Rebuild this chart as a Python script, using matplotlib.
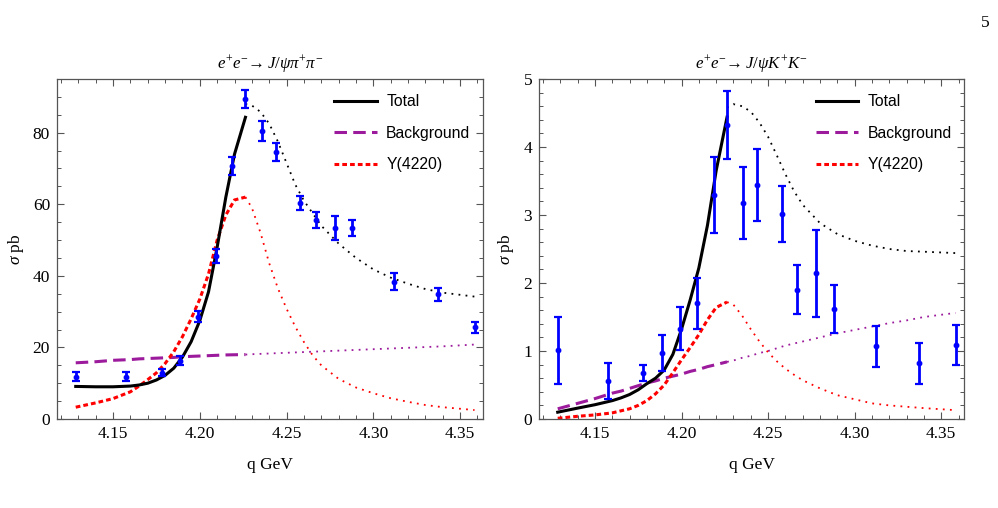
import matplotlib
matplotlib.use("Agg")
import matplotlib.pyplot as plt
from matplotlib.ticker import MultipleLocator
from matplotlib.lines import Line2D

plt.rcParams["font.family"] = "Liberation Serif"
plt.rcParams["mathtext.fontset"] = "custom"
plt.rcParams["mathtext.it"] = "Liberation Serif:italic"
plt.rcParams["mathtext.rm"] = "Liberation Serif"
plt.rcParams["lines.scale_dashes"] = False

# ---- data: measured cross sections ----
energy = [4.1285, 4.1574, 4.1780, 4.1888, 4.1989, 4.2092, 4.2187, 4.2263, 4.2357,
          4.2438, 4.2580, 4.2668, 4.2777, 4.2879, 4.3121, 4.3374, 4.3583]
pipi_sigma = [11.8, 11.8, 12.9, 16.3, 28.6, 45.5, 70.8, 89.3, 80.5,
              74.7, 60.4, 55.6, 53.4, 53.3, 38.4, 34.8, 25.6]
pipi_err = [1.3, 1.2, 1.0, 1.2, 1.5, 2.0, 2.5, 2.5, 2.8,
            2.5, 2.0, 2.2, 3.3, 2.3, 2.4, 1.7, 1.6]
kk_sigma = [1.01, 0.56, 0.68, 0.97, 1.33, 1.70, 3.29, 4.33, 3.18,
            3.44, 3.01, 1.90, 2.14, 1.62, 1.07, 0.82, 1.09]
kk_err = [0.49, 0.27, 0.12, 0.27, 0.32, 0.37, 0.56, 0.50, 0.53,
          0.53, 0.41, 0.36, 0.64, 0.35, 0.30, 0.30, 0.29]

# ---- fitted curves ----
# fit region (solid / dashed)
q_fit = [4.1285, 4.14, 4.15, 4.16, 4.165, 4.17, 4.175, 4.18, 4.185, 4.19,
         4.195, 4.20, 4.205, 4.21, 4.215, 4.22, 4.2263]
pipi_total = [9.1, 9.0, 9.0, 9.2, 9.5, 10.0, 10.9, 12.2, 14.2, 17.3,
              21.6, 27.5, 35.5, 48.0, 62.0, 74.0, 84.3]
pipi_bkg = [15.7, 16.0, 16.4, 16.6, 16.8, 16.9, 17.0, 17.1, 17.2, 17.4,
            17.5, 17.6, 17.7, 17.8, 17.9, 17.95, 18.0]
pipi_y = [3.3, 4.5, 5.7, 7.6, 9.2, 11.0, 12.9, 15.5, 18.8, 23.0,
          28.0, 33.5, 40.5, 50.0, 57.0, 61.2, 62.0]
kk_total = [0.10, 0.16, 0.21, 0.27, 0.31, 0.36, 0.43, 0.52, 0.60, 0.72,
            0.95, 1.32, 1.75, 2.22, 2.85, 3.65, 4.44]
kk_bkg = [0.15, 0.23, 0.30, 0.38, 0.41, 0.45, 0.49, 0.53, 0.56, 0.60,
          0.63, 0.66, 0.70, 0.73, 0.77, 0.80, 0.84]
kk_y = [0.01, 0.04, 0.06, 0.09, 0.12, 0.15, 0.20, 0.27, 0.37, 0.50,
        0.68, 0.87, 1.05, 1.24, 1.46, 1.64, 1.72]

# extrapolation (dotted)
q_ext = [4.2263, 4.23, 4.235, 4.24, 4.245, 4.25, 4.255, 4.26, 4.265, 4.27,
         4.28, 4.29, 4.30, 4.31, 4.32, 4.33, 4.34, 4.3583]
pipi_total_ext = [88.0, 87.6, 85.8, 82.5, 77.5, 71.5, 65.5, 61.0, 57.5, 54.0,
                  49.0, 45.0, 41.8, 39.5, 37.8, 36.3, 35.3, 34.2]
pipi_bkg_ext = [18.0, 18.1, 18.2, 18.3, 18.4, 18.5, 18.6, 18.7, 18.8, 18.9,
                19.1, 19.3, 19.5, 19.7, 19.9, 20.1, 20.3, 20.8]
pipi_y_ext = [62.0, 59.0, 52.0, 43.5, 36.5, 30.8, 25.8, 21.5, 17.8, 15.0,
              11.2, 8.8, 7.2, 5.8, 4.8, 3.9, 3.3, 2.5]
kk_total_ext = [4.58, 4.63, 4.60, 4.52, 4.36, 4.15, 3.88, 3.60, 3.35, 3.15,
                2.88, 2.72, 2.62, 2.55, 2.50, 2.47, 2.46, 2.44]
kk_bkg_ext = [0.84, 0.86, 0.90, 0.93, 0.97, 1.00, 1.04, 1.08, 1.11, 1.14,
              1.20, 1.26, 1.31, 1.36, 1.41, 1.45, 1.50, 1.56]
kk_y_ext = [1.72, 1.68, 1.52, 1.32, 1.14, 0.98, 0.85, 0.74, 0.65, 0.57,
            0.45, 0.35, 0.29, 0.23, 0.20, 0.18, 0.16, 0.13]

titles = [r"$e^{+}e^{-}\!\rightarrow J/\psi\pi^{+}\pi^{-}$",
          r"$e^{+}e^{-}\!\rightarrow J/\psi K^{+}K^{-}$"]
labels = ["Total", "Background", "Y(4220)"]

PURPLE = "#9c1a9c"
BLUE = "#0000ff"
SPINE = "#555555"
DASH_BKG = (0, (9, 4.5))
DASH_Y = (0, (3.4, 2.2))
DOT = (0, (1.3, 3.8))

fig = plt.figure(figsize=(9.98, 5.08), dpi=100)
ax1 = fig.add_axes([0.0571, 0.1752, 0.4269, 0.6693])
ax2 = fig.add_axes([0.5401, 0.1752, 0.4259, 0.6693])

panels = [
    (ax1, pipi_sigma, pipi_err, pipi_total, pipi_bkg, pipi_y,
     pipi_total_ext, pipi_bkg_ext, pipi_y_ext, 95, 20, 5),
    (ax2, kk_sigma, kk_err, kk_total, kk_bkg, kk_y,
     kk_total_ext, kk_bkg_ext, kk_y_ext, 5, 1, 0.2),
]

for i, (ax, sig, err, tot, bkg, yy, tot_e, bkg_e, yy_e, ytop, ymaj, ymin) in enumerate(panels):
    # dotted extrapolations
    ax.plot(q_ext, tot_e, color="black", lw=1.3, ls=DOT)
    ax.plot(q_ext, bkg_e, color=PURPLE, lw=1.3, ls=DOT)
    ax.plot(q_ext, yy_e, color="red", lw=1.3, ls=DOT)
    # fit curves
    ax.plot(q_fit, bkg, color=PURPLE, lw=2.2, ls=DASH_BKG)
    ax.plot(q_fit, yy, color="red", lw=2.2, ls=DASH_Y)
    ax.plot(q_fit, tot, color="black", lw=2.2)
    ax.errorbar(energy, sig, yerr=err, fmt="o", color=BLUE, ms=3.2,
                elinewidth=2.0, capsize=2.6, capthick=1.6, zorder=5)

    ax.set_xlim(4.1177, 4.3632)
    ax.set_ylim(0, ytop)
    ax.xaxis.set_major_locator(MultipleLocator(0.05))
    ax.xaxis.set_minor_locator(MultipleLocator(0.01))
    ax.yaxis.set_major_locator(MultipleLocator(ymaj))
    ax.yaxis.set_minor_locator(MultipleLocator(ymin))
    ax.xaxis.set_major_formatter(plt.FuncFormatter(lambda v, p: f"{v:.2f}"))
    ax.tick_params(which="both", direction="in", top=True, right=True,
                   color=SPINE, labelsize=12.5, pad=5)
    ax.tick_params(which="major", length=5, width=0.8)
    ax.tick_params(which="minor", length=3, width=0.7)
    for sp in ax.spines.values():
        sp.set_color(SPINE)
        sp.set_linewidth(0.9)

    ax.set_xlabel("q GeV", fontsize=12.5, labelpad=11)
    ax.set_ylabel(r"$\sigma$ pb", fontsize=12.5, labelpad=5)
    ax.set_title(titles[i], fontsize=12.2, pad=8)

    handles = [Line2D([], [], color="black", lw=2.2),
               Line2D([], [], color=PURPLE, lw=2.2, ls=DASH_BKG),
               Line2D([], [], color="red", lw=2.2, ls=DASH_Y)]
    ax.legend(handles, labels, loc="upper left", bbox_to_anchor=(0.618, 0.997),
              frameon=False, handlelength=2.7, handletextpad=0.6,
              labelspacing=1.05, prop={"family": "Liberation Sans", "size": 11.3})

fig.text(0.992, 0.955, "5", fontsize=12.5, ha="right", va="center")

fig.savefig("out.png", dpi=100)
